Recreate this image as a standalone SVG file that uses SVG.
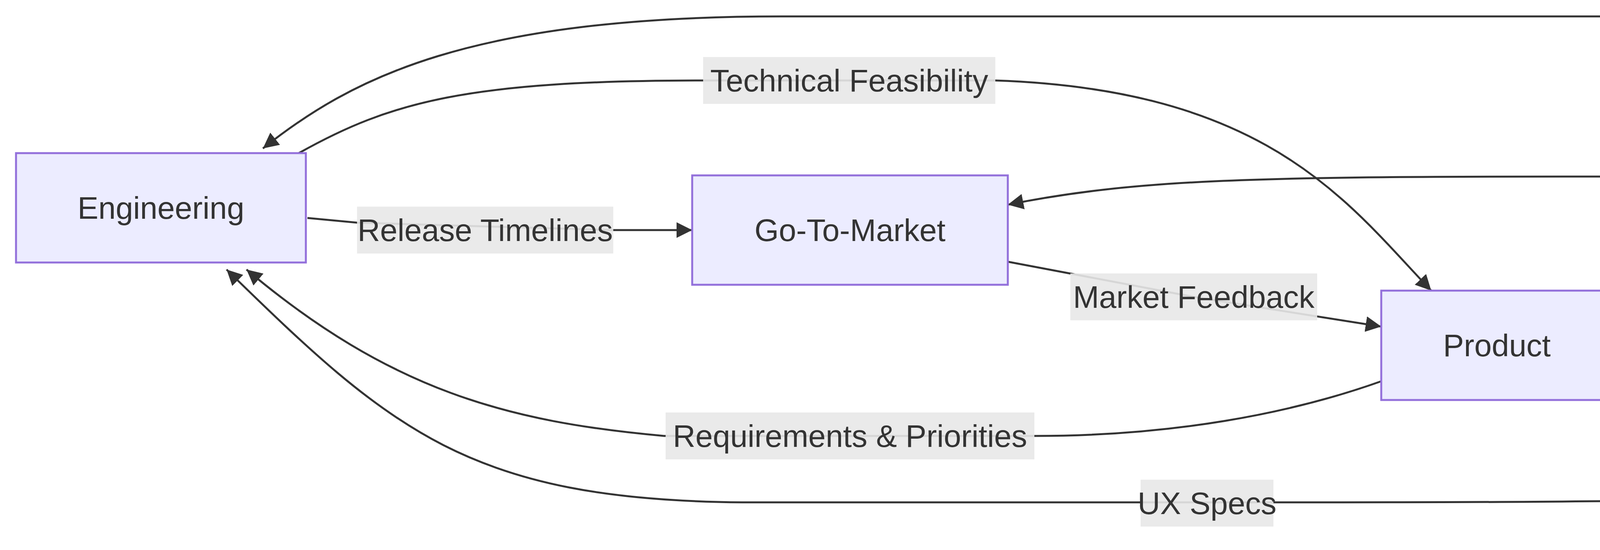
<svg xmlns="http://www.w3.org/2000/svg" width="6272" height="1408" viewBox="0 0 6272 1408">
<style>
.node{fill:#ECECFF;stroke:#9370DB;stroke-width:5}
.t{font-family:"Liberation Sans",Arial,sans-serif;font-size:80px;fill:#333;text-anchor:middle;dominant-baseline:central}
.e{fill:none;stroke:#333;stroke-width:5}
.lb{fill:#e8e8e8;opacity:0.9}
</style>
<defs>
<marker id="a" viewBox="0 0 10 10" refX="10" refY="5" markerWidth="40" markerHeight="40" markerUnits="userSpaceOnUse" orient="auto-start-reverse"><path d="M0,0L10,5L0,10z" fill="#333"/></marker>
</defs>
<rect width="6272" height="1408" fill="#fff"/>
<g id="edges">
<path class="e" d="M673,380 C900,200 1200,42 2000,42 L5200,42 C5450,48 5560,150 5700,275" marker-start="url(#a)" marker-end="url(#a)"/>
<path class="e" d="M765,392 C1000,260 1200,206 1800,206 L2548,206 C3250,230 3450,520 3664,744" marker-end="url(#a)"/>
<path class="e" d="M2580,524 C2900,460 3200,452 4000,452 L5300,452 C5450,454 5550,460 5610,467" marker-start="url(#a)" marker-end="url(#a)"/>
<path class="e" d="M4128,776 C4300,700 4500,660 5000,660 L5300,656 C5450,650 5550,630 5628,603" marker-start="url(#a)" marker-end="url(#a)"/>
<path class="e" d="M5352,1202 C5450,1205 5500,1150 5620,950 L5749,744" marker-start="url(#a)" marker-end="url(#a)"/>
<path class="e" d="M787,558 L914,570 L1569,589 L1772,589" marker-end="url(#a)"/>
<path class="e" d="M2580,670 L3056,760 L3536,836" marker-end="url(#a)"/>
<path class="e" d="M3536,976 C3300,1060 3000,1116 2650,1116 L1700,1116 C1300,1080 1000,1000 631,690" marker-end="url(#a)"/>
<path class="e" d="M4800,1244 C4600,1280 4300,1286 3300,1286 L1900,1286 C1200,1280 1000,1100 580,690" marker-end="url(#a)"/>
<g>
<rect class="lb" x="1800" y="146" width="748" height="120"/><text class="t" x="2174" y="206">Technical Feasibility</text>
<rect class="lb" x="914" y="529" width="656" height="120"/><text class="t" x="1242" y="589">Release Timelines</text>
<rect class="lb" x="2740" y="700" width="632" height="120"/><text class="t" x="3056" y="760">Market Feedback</text>
<rect class="lb" x="1704" y="1056" width="944" height="120"/><text class="t" x="2176" y="1116">Requirements &amp; Priorities</text>
<rect class="lb" x="4264" y="984" width="412" height="120"/><text class="t" x="4470" y="1044">User Needs</text>
<rect class="lb" x="2920" y="1228" width="340" height="120"/><text class="t" x="3090" y="1288">UX Specs</text>
</g>
</g>
<g id="engineering"><rect class="node" x="41" y="392" width="742" height="280"/><text class="t" x="412" y="532">Engineering</text></g>
<g id="gtm"><rect class="node" x="1772" y="449" width="808" height="280"/><text class="t" x="2176" y="589">Go-To-Market</text></g>
<g id="product"><rect class="node" x="3536" y="744" width="592" height="280"/><text class="t" x="3832" y="884">Product</text></g>
<g id="design"><rect class="node" x="4800" y="1064" width="552" height="280"/><text class="t" x="5076" y="1204">Design</text></g>
<g id="shared"><circle class="node" cx="5889" cy="500" r="278"/>
<text class="t" x="5889" y="314">Shared Goals</text>
<text class="t" x="5889" y="438">Roadmap</text>
<text class="t" x="5889" y="562">Metrics</text>
<text class="t" x="5889" y="686">Customers</text></g>
</svg>
